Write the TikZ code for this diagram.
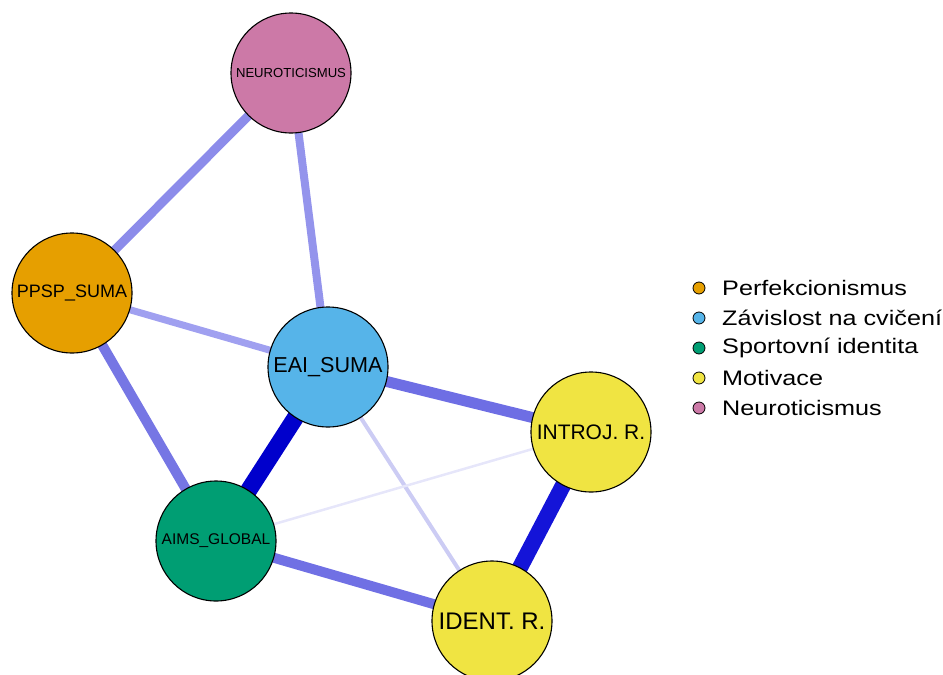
\documentclass[tikz,border=0pt]{standalone}
\usepackage{fontspec}
\setmainfont{Liberation Sans}
\newfontfamily\legfont[FakeStretch=1.2]{Liberation Sans}
\usetikzlibrary{backgrounds}
\definecolor{cPerf}{HTML}{E69F00}
\definecolor{cEAI}{HTML}{56B4E9}
\definecolor{cSport}{HTML}{009E73}
\definecolor{cMot}{HTML}{F0E442}
\definecolor{cNeu}{HTML}{CC79A7}
\tikzset{
  vnode/.style={circle, draw=black, line width=1.1pt, minimum size=120pt, inner sep=0pt},
  edg/.style={line cap=butt},
  legdot/.style={circle, draw=black, line width=0.8pt, minimum size=12pt, inner sep=0pt},
  legtxt/.style={anchor=west, inner sep=0pt, font=\legfont\fontsize{21}{25}\selectfont}
}
\begin{document}
\begin{tikzpicture}[x=1pt,y=-1pt]
\useasboundingbox (0,0) rectangle (943,675);
\node[vnode, fill=cNeu, font=\fontsize{13.1}{16}\selectfont] (neu) at (291,73) {NEUROTICISMUS};
\node[vnode, fill=cPerf, font=\fontsize{18}{21}\selectfont] (ppsp) at (72,293) {PPSP\_SUMA};
\node[vnode, fill=cEAI, font=\fontsize{21.6}{25}\selectfont] (eai) at (328,367) {EAI\_SUMA};
\node[vnode, fill=cMot, font=\fontsize{21}{25}\selectfont] (intro) at (591,432) {INTROJ. R.};
\node[vnode, fill=cSport, font=\fontsize{15.5}{18}\selectfont] (aims) at (216,541) {AIMS\_GLOBAL};
\node[vnode, fill=cMot, font=\fontsize{24}{28}\selectfont] (ident) at (492,621) {IDENT. R.};
\begin{scope}[on background layer]
\draw[edg, line width=9pt, color={rgb,255:red,140;green,140;blue,234}] (neu.center) -- (ppsp.center);
\draw[edg, line width=8pt, color={rgb,255:red,148;green,148;blue,236}] (neu.center) -- (eai.center);
\draw[edg, line width=7pt, color={rgb,255:red,160;green,160;blue,240}] (ppsp.center) -- (eai.center);
\draw[edg, line width=10pt, color={rgb,255:red,118;green,118;blue,228}] (ppsp.center) -- (aims.center);
\draw[edg, line width=17pt, color={rgb,255:red,0;green,0;blue,204}] (eai.center) -- (aims.center);
\draw[edg, line width=11pt, color={rgb,255:red,110;green,110;blue,228}] (eai.center) -- (intro.center);
\draw[edg, line width=4pt, color={rgb,255:red,204;green,204;blue,244}] (eai.center) -- (ident.center);
\draw[edg, line width=2.5pt, color={rgb,255:red,230;green,230;blue,250}] (intro.center) -- (aims.center);
\draw[edg, line width=16pt, color={rgb,255:red,20;green,20;blue,216}] (intro.center) -- (ident.center);
\draw[edg, line width=10pt, color={rgb,255:red,112;green,112;blue,228}] (aims.center) -- (ident.center);
\end{scope}
\node[legdot, fill=cPerf] (d1) at (699,288) {};
\node[legdot, fill=cEAI] (d2) at (699,318) {};
\node[legdot, fill=cSport] (d3) at (699,348) {};
\node[legdot, fill=cMot] (d4) at (699,378) {};
\node[legdot, fill=cNeu] (d5) at (699,408) {};
\node[legtxt] (t1) at (722,288) {Perfekcionismus};
\node[legtxt] (t2) at (722,318) {Závislost na cvičení};
\node[legtxt] (t3) at (722,348) {Sportovní identita};
\node[legtxt] (t4) at (722,378) {Motivace};
\node[legtxt] (t5) at (722,408) {Neuroticismus};
\end{tikzpicture}
\end{document}
